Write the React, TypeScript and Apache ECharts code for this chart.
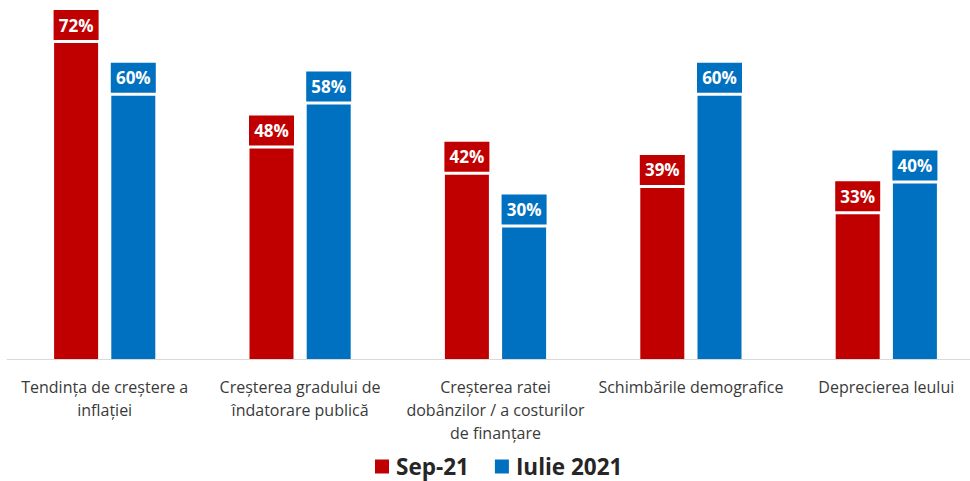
import React, { useEffect, useRef } from "react";
import * as echarts from "echarts";

const categories = [
  "Tendința de creștere a\ninflației",
  "Creșterea gradului de\nîndatorare publică",
  "Creșterea ratei\ndobânzilor / a costurilor\nde finanțare",
  "Schimbările demografice",
  "Deprecierea leului",
];
const seriesNames = ["Sep-21", "Iulie 2021"];
const sep21 = [72, 48, 42, 39, 33];
const iulie2021 = [60, 58, 30, 60, 40];
const colors = ["#C00000", "#0070C0"];

export default function App() {
  const ref = useRef<HTMLDivElement>(null);
  useEffect(() => {
    if (!ref.current) return;
    const chart = echarts.init(ref.current, undefined, { renderer: "svg" });
    const mkLabel = (color: string) => ({
      show: true,
      position: "top",
      distance: 3,
      formatter: "{c}%",
      color: "#FFFFFF",
      fontFamily: "Open Sans",
      fontWeight: "bold",
      fontSize: 17,
      lineHeight: 20,
      backgroundColor: color,
      padding: [5, 0, 5, 0],
      width: 45,
      align: "center",
    });
    chart.setOption({
      animation: false,
      textStyle: { fontFamily: "Open Sans" },
      grid: { left: 7, top: 8, width: 977, height: 351, containLabel: false },
      legend: {
        data: seriesNames,
        top: 450,
        left: 370,
        itemWidth: 14,
        itemHeight: 14,
        itemGap: 26,
        icon: "rect",
        textStyle: {
          fontSize: 22.5,
          fontWeight: "bold",
          color: "#262626",
          fontFamily: "Open Sans",
          padding: [0, 0, 0, 2],
        },
      },
      xAxis: {
        type: "category",
        data: categories,
        axisLine: { show: true, lineStyle: { color: "#D9D9D9", width: 1 } },
        axisTick: { show: false },
        axisLabel: {
          interval: 0,
          margin: 16,
          fontSize: 16,
          lineHeight: 23,
          color: "#3A3A3A",
          fontFamily: "Open Sans",
        },
      },
      yAxis: {
        type: "value",
        min: 0,
        max: 80,
        show: false,
        splitLine: { show: false },
      },
      series: [
        {
          name: seriesNames[0],
          type: "bar",
          data: sep21,
          barWidth: 44,
          barGap: "30%",
          itemStyle: { color: colors[0] },
          label: mkLabel(colors[0]),
        },
        {
          name: seriesNames[1],
          type: "bar",
          data: iulie2021,
          barWidth: 44,
          barGap: "30%",
          itemStyle: { color: colors[1] },
          label: mkLabel(colors[1]),
        },
      ],
    });
    return () => chart.dispose();
  }, []);
  return (
    <div
      style={{
        position: "absolute",
        left: 0,
        top: 0,
        width: 970,
        height: 481,
        overflow: "hidden",
      }}
    >
      <div ref={ref} style={{ width: 990, height: 481 }} />
    </div>
  );
}
